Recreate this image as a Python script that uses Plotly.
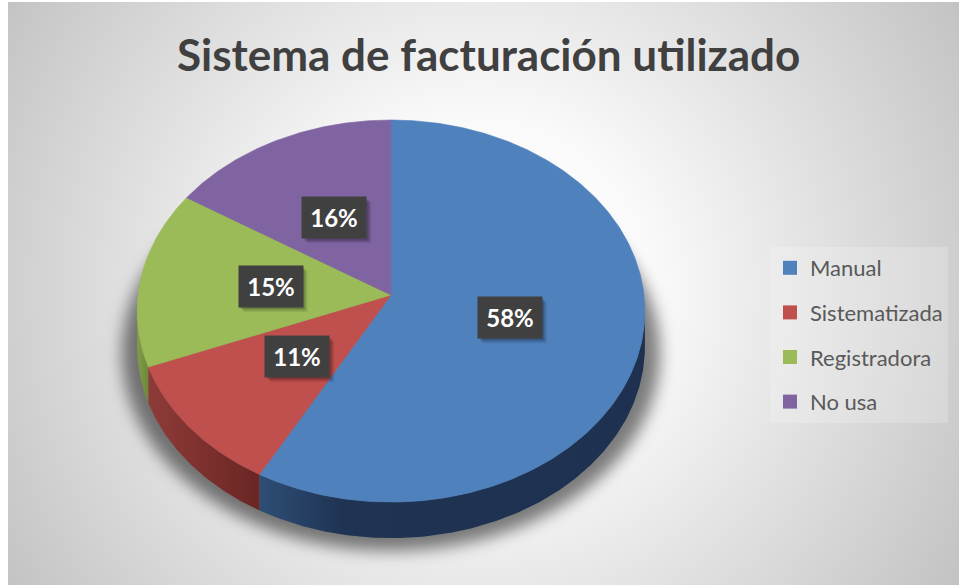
import base64
import numpy as np
import plotly.graph_objects as go

# ---- data -------------------------------------------------------------
categories = ["Manual", "Sistematizada", "Registradora", "No usa"]
shares = [58, 11, 15, 16]
title_text = "Sistema de facturación utilizado"

top_colors = ["#4F81BD", "#C0504D", "#9BBB59", "#8064A2"]
side_scales = [
    [[0, "#2E4E76"], [0.22, "#1F3352"], [1, "#1E3150"]],
    [[0, "#8E3B38"], [1, "#6A2624"]],
    [[0, "#819C49"], [1, "#6E883B"]],
    [[0, "#5F4A7D"], [1, "#4F3D68"]],
]

# ---- geometry of the tilted pie (pixel space) ---------------------------
W, H = 959, 585
CX, CY = 391, 295          # pie centre
RX, RY = 253, 189.7        # half-axes of the top face
PERSP = 0.084              # foreshortening of the far side
DEPTH = 36                 # thickness of the disc
LABEL_R = 0.48             # label distance as fraction of radius
BOX_W, BOX_H = 64, 41      # label box size


def project(theta_deg, r=1.0):
    t = np.radians(theta_deg)
    u = r * np.sin(t)
    v = r * np.cos(t)
    d = 1 + PERSP * v
    return CX + RX * u / d, CY - RY * v / d


# silhouette angles: where the rim is widest on either side
grid = np.linspace(0, 360, 7201)
gx, _ = project(grid)
theta_right = grid[np.argmax(gx)]
theta_left = grid[np.argmin(gx)]

total = float(sum(shares))
bounds = np.concatenate([[0], np.cumsum(shares)]) / total * 360.0

fig = go.Figure()

# side walls (front half of the rim only)
for i in range(len(shares)):
    a0 = max(bounds[i], theta_right)
    a1 = min(bounds[i + 1], theta_left)
    if a1 <= a0:
        continue
    th = np.linspace(a0, a1, max(int((a1 - a0) * 2), 2))
    xs, ys = project(th)
    px = np.concatenate([xs, xs[::-1], xs[:1]])
    py = np.concatenate([ys, ys[::-1] + DEPTH, ys[:1]])
    fig.add_trace(go.Scatter(
        x=px, y=py, mode="lines", line=dict(width=0),
        fill="toself",
        fillgradient=dict(type="horizontal", colorscale=side_scales[i]),
        showlegend=False, hoverinfo="skip"))

# top faces
for i in range(len(shares)):
    th = np.linspace(bounds[i], bounds[i + 1], max(int((bounds[i + 1] - bounds[i]) * 2), 2))
    xs, ys = project(th)
    px = np.concatenate([[CX], xs, [CX]])
    py = np.concatenate([[CY], ys, [CY]])
    fig.add_trace(go.Scatter(
        x=px, y=py, mode="lines", line=dict(width=0.6, color=top_colors[i]),
        fill="toself", fillcolor=top_colors[i],
        showlegend=False, hoverinfo="skip"))

# legend entries
for name, col in zip(categories, top_colors):
    fig.add_trace(go.Scatter(
        x=[None], y=[None], mode="markers", name=name, legendgroup=name,
        marker=dict(symbol="square", size=14, color=col)))

# percentage labels in dark boxes with a soft drop shadow
annotations = []
shapes = []
for i, s in enumerate(shares):
    mid = (bounds[i] + bounds[i + 1]) / 2
    lx, ly = project(mid, LABEL_R)
    for k, a in ((5, 0.08), (3.5, 0.12), (2, 0.16)):
        shapes.append(dict(
            type="rect", xref="x", yref="y", layer="above",
            x0=lx - BOX_W / 2 + k, x1=lx + BOX_W / 2 + k,
            y0=ly - BOX_H / 2 + k, y1=ly + BOX_H / 2 + k,
            line=dict(width=0), fillcolor=f"rgba(0,0,0,{a})"))
    annotations.append(dict(
        x=lx, y=ly, xref="x", yref="y",
        text=f"<b>{round(s / total * 100)}%</b>", showarrow=False,
        width=BOX_W - 4, height=BOX_H - 4, borderpad=2, bgcolor="#404040",
        font=dict(family="Lato", size=24, color="#FFFFFF")))

annotations.append(dict(
    x=488, y=54, xref="x", yref="y", text=f"<b>{title_text}</b>", showarrow=False,
    xanchor="center", yanchor="middle",
    font=dict(family="Lato", size=44, color="#404040")))

# background: radial grey gradient plus a soft shadow under the disc
sh_cx, sh_cy = CX, CY + 58
sh_rx, sh_ry = RX + 16, RY + 8
svg = f'''<svg xmlns="http://www.w3.org/2000/svg" width="{W}" height="{H}" viewBox="0 0 {W} {H}">
<defs>
<radialGradient id="bg" gradientUnits="userSpaceOnUse" cx="480" cy="290" r="565">
<stop offset="0" stop-color="#ffffff"/>
<stop offset="0.3" stop-color="#fafafa"/>
<stop offset="1" stop-color="#c2c2c2"/>
</radialGradient>
<filter id="blur" x="-30%" y="-30%" width="160%" height="160%">
<feGaussianBlur stdDeviation="8"/>
</filter>
</defs>
<rect x="0" y="0" width="{W}" height="{H}" fill="#ffffff"/>
<rect x="8" y="2" width="{W - 8}" height="{H - 2}" fill="url(#bg)"/>
<ellipse cx="{sh_cx}" cy="{sh_cy}" rx="{sh_rx}" ry="{sh_ry}" fill="#000000" fill-opacity="0.5" filter="url(#blur)"/>
</svg>'''
bg_uri = "data:image/svg+xml;base64," + base64.b64encode(svg.encode("utf-8")).decode("ascii")

fig.update_layout(
    width=W, height=H,
    margin=dict(l=0, r=0, t=0, b=0),
    paper_bgcolor="#FFFFFF",
    plot_bgcolor="rgba(0,0,0,0)",
    xaxis=dict(range=[0, W], visible=False, fixedrange=True, domain=[0, 1]),
    yaxis=dict(range=[H, 0], visible=False, fixedrange=True, domain=[0, 1]),
    images=[dict(source=bg_uri, xref="paper", yref="paper", x=0, y=1,
                 sizex=1, sizey=1, sizing="stretch", layer="below",
                 xanchor="left", yanchor="top")],
    shapes=shapes,
    annotations=annotations,
    showlegend=True,
    legend=dict(
        x=770 / W, y=1 - 247 / H, xanchor="left", yanchor="top",
        bgcolor="rgba(255,255,255,0.2)",
        font=dict(family="Lato", size=22, color="#595959"),
        tracegroupgap=13, itemsizing="trace", itemwidth=30),
    hovermode=False,
)

fig.write_html("out.html", config={"displayModeBar": False})
